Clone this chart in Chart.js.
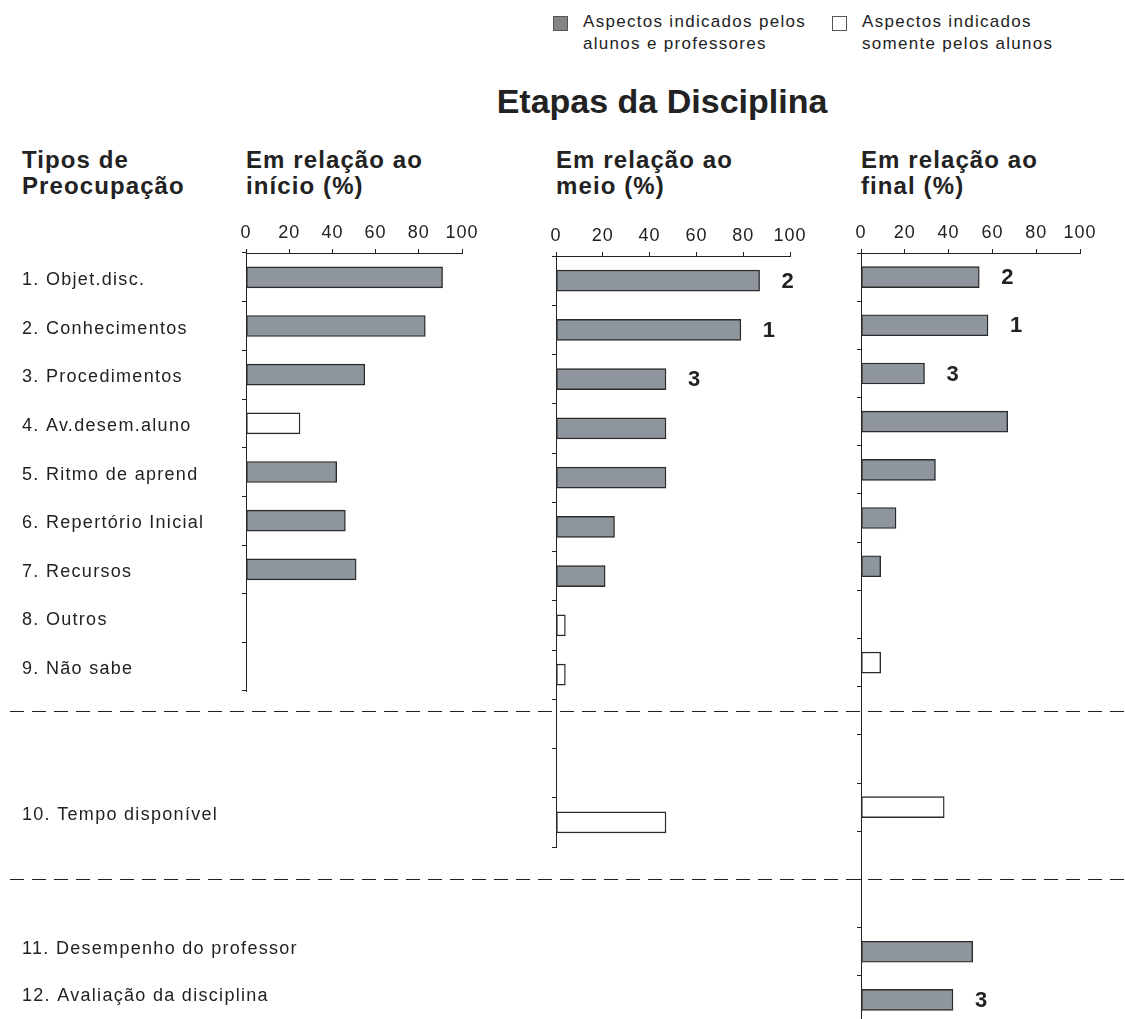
<!DOCTYPE html>
<html>
<head>
<meta charset="utf-8">
<script src="https://cdn.jsdelivr.net/npm/chart.js@4.4.1/dist/chart.umd.min.js"></script>
<style>
  html, body { margin:0; padding:0; background:#fff; overflow:hidden; width:1125px; height:1019px; }
  body { position:relative; font-family:"Liberation Sans", Arial, sans-serif; color:#222; }
  canvas { position:absolute; }
  .hdr { position:absolute; font-weight:bold; font-size:24px; line-height:26px; letter-spacing:1.1px; color:#222; white-space:nowrap; }
  .title { position:absolute; font-weight:bold; font-size:34px; line-height:40px; color:#222; text-align:center; white-space:nowrap; }
  .lg-sq { position:absolute; width:13px; height:13px; border:1px solid #555; }
  .lg-tx { position:absolute; font-size:17px; line-height:22px; letter-spacing:1.3px; color:#222; white-space:nowrap; }
</style>
</head>
<body>
<div class="lg-sq" style="left:553px;top:16px;background:#858585"></div>
<div class="lg-tx" style="left:583px;top:11px">Aspectos indicados pelos<br>alunos e professores</div>
<div class="lg-sq" style="left:832px;top:16px;background:#fff"></div>
<div class="lg-tx" style="left:862px;top:11px">Aspectos indicados<br>somente pelos alunos</div>

<div class="title" style="left:362px;top:81px;width:600px">Etapas da Disciplina</div>

<div class="hdr" style="left:22px;top:147px">Tipos de<br>Preocupação</div>
<div class="hdr" style="left:246px;top:147px">Em relação ao<br>início (%)</div>
<div class="hdr" style="left:556px;top:147px">Em relação ao<br>meio (%)</div>
<div class="hdr" style="left:861px;top:147px">Em relação ao<br>final (%)</div>

<canvas id="cLabelsA" width="600" height="850" style="left:0;top:0"></canvas>
<canvas id="cLabelsB" width="600" height="130" style="left:0;top:900px"></canvas>
<canvas id="cInicio" width="268" height="494" style="left:234px;top:200px"></canvas>
<canvas id="cMeio" width="286" height="650" style="left:544px;top:200px"></canvas>
<canvas id="cFinal" width="1125" height="830" style="left:0;top:200px"></canvas>

<script>
// ---------- DATA ----------
// slots of the category axis (empty strings = blank rows between sections)
const slotLabels = [
  '1. Objet.disc.', '2. Conhecimentos', '3. Procedimentos', '4. Av.desem.aluno',
  '5. Ritmo de aprend', '6. Repertório Inicial', '7. Recursos', '8. Outros', '9. Não sabe',
  '', '', '10. Tempo disponível', '', '', '11. Desempenho do professor', '12. Avaliação da disciplina'
];
const xTicks = [0, 20, 40, 60, 80, 100];
// A = aspectos indicados pelos alunos e professores; S = somente pelos alunos
const inicioValues = [91, 83, 55, 25, 42, 46, 51, null, null];
const inicioKinds  = ['A', 'A', 'A', 'S', 'A', 'A', 'A', null, null];
const inicioRanks  = [null, null, null, null, null, null, null, null, null];

const meioValues = [87, 79, 47, 47, 47, 25, 21, 4, 4, null, null, 47];
const meioKinds  = ['A', 'A', 'A', 'A', 'A', 'A', 'A', 'S', 'S', null, null, 'S'];
const meioRanks  = ['2', '1', '3', null, null, null, null, null, null, null, null, null];

const finalValues = [54, 58, 29, 67, 34, 16, 9, null, 9, null, null, 38, null, null, 51, 42];
const finalKinds  = ['A', 'A', 'A', 'A', 'A', 'A', 'A', null, 'S', null, null, 'S', null, null, 'A', 'A'];
const finalRanks  = ['2', '1', '3', null, null, null, null, null, null, null, null, null, null, null, null, '3'];

// section separators, in slot units of the 16-slot axis
const separators = [9, 12.5];

// ---------- STYLE ----------
const FONT = '"Liberation Sans", Arial, sans-serif';
const INK = '#222';
const GRAY = '#8e959c';

function spacingPlugin(px) {
  return {
    id: 'spacing',
    beforeUpdate(chart) { chart.ctx.letterSpacing = px; },
    beforeDraw(chart) { chart.ctx.letterSpacing = px; }
  };
}

function rankPlugin(ranks) {
  return {
    id: 'ranks',
    afterDatasetsDraw(chart) {
      const meta = chart.getDatasetMeta(0);
      const ctx = chart.ctx;
      ctx.save();
      ctx.letterSpacing = '0px';
      ctx.font = 'bold 22px ' + FONT;
      ctx.fillStyle = INK;
      ctx.textAlign = 'left';
      ctx.textBaseline = 'middle';
      ranks.forEach((t, i) => {
        if (!t) return;
        const el = meta.data[i];
        ctx.fillText(t, el.x + 22, el.y + 1);
      });
      ctx.restore();
    }
  };
}

const separatorPlugin = {
  id: 'separators',
  afterDraw(chart) {
    const ctx = chart.ctx, y = chart.scales.y;
    ctx.save();
    ctx.strokeStyle = INK;
    ctx.lineWidth = 1.2;
    ctx.setLineDash([14, 8]);
    separators.forEach(v => {
      const py = Math.round(y.getPixelForValue(v)) + 0.5;
      ctx.beginPath();
      ctx.moveTo(10, py);
      ctx.lineTo(chart.width, py);
      ctx.stroke();
    });
    ctx.restore();
  }
};

function makePanel(id, values, kinds, ranks, axisH, padLeft, padRight, padBottom, extra) {
  const n = values.length;
  return new Chart(document.getElementById(id), {
    type: 'bar',
    data: {
      labels: slotLabels.slice(0, n),
      datasets: [{
        data: values,
        backgroundColor: kinds.map(k => k === 'S' ? '#ffffff' : GRAY),
        borderColor: '#2b2b2b',
        borderWidth: 1.4,
        borderSkipped: false,
        barThickness: 21
      }]
    },
    options: {
      indexAxis: 'y',
      responsive: false,
      animation: false,
      events: [],
      layout: { padding: { left: padLeft, right: padRight, top: 0, bottom: padBottom } },
      plugins: { legend: { display: false }, tooltip: { enabled: false } },
      scales: {
        x: {
          position: 'top', min: 0, max: 100,
          afterBuildTicks: s => { s.ticks = xTicks.map(v => ({ value: v })); },
          afterFit: s => { s.height = axisH; },
          grid: { drawOnChartArea: false, drawTicks: true, tickLength: 4, color: INK, lineWidth: 1 },
          border: { display: true, color: INK, width: 1 },
          ticks: { font: { family: FONT, size: 18 }, color: INK, padding: 5, maxRotation: 0, autoSkip: false }
        },
        y: {
          type: 'category', offset: true,
          grid: { offset: true, drawOnChartArea: false, drawTicks: true, tickLength: 4, color: INK, lineWidth: 1 },
          border: { display: true, color: INK, width: 1 },
          ticks: { display: false },
          afterFit: s => { s.width = 12; }
        }
      }
    },
    plugins: [spacingPlugin('1px'), rankPlugin(ranks)].concat(extra || [])
  });
}

function makeLabelColumn(id, labels, padTop, padBottom) {
  return new Chart(document.getElementById(id), {
    type: 'bar',
    data: { labels: labels, datasets: [{ data: [] }] },
    options: {
      indexAxis: 'y',
      responsive: false,
      animation: false,
      events: [],
      layout: { padding: { left: 22, top: padTop, bottom: padBottom, right: 0 } },
      plugins: { legend: { display: false }, tooltip: { enabled: false } },
      scales: {
        x: { display: false, min: 0, max: 100 },
        y: {
          type: 'category', offset: true,
          grid: { display: false }, border: { display: false },
          ticks: { crossAlign: 'far', font: { family: FONT, size: 18 }, color: INK, padding: 0, autoSkip: false },
          afterFit: s => { s.width = 500; }
        }
      }
    },
    plugins: [spacingPlugin('1.3px')]
  });
}

// label column: section 1-2 (rows 1-10) and section 3 (rows 11-12)
makeLabelColumn('cLabelsA', slotLabels.slice(0, 12), 256, 3);
makeLabelColumn('cLabelsB', slotLabels.slice(14, 16), 26, 8);

makePanel('cInicio', inicioValues, inicioKinds, inicioRanks, 53, 0, 40, 3);
makePanel('cMeio', meioValues, meioKinds, meioRanks, 56, 0, 40, 3);
makePanel('cFinal', finalValues, finalKinds, finalRanks, 53, 849, 45, 6, [separatorPlugin]);
</script>
</body>
</html>
